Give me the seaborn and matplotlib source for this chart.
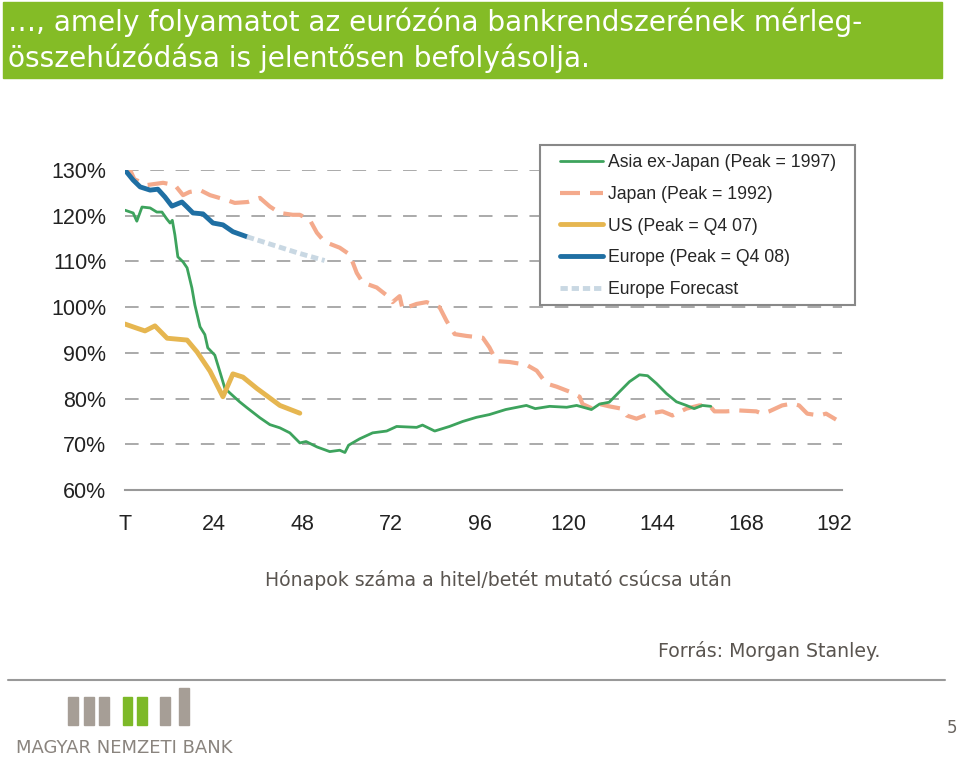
import pandas as pd
import seaborn as sns
import matplotlib.pyplot as plt
from matplotlib.patches import Rectangle
from matplotlib.lines import Line2D

# data: months after peak, loan/deposit ratio (%)
asia_months = [0, 2.2, 3.2, 4.6, 6.8, 8.6, 10, 11.3, 12.2, 12.8, 13.5, 14.3, 15.7, 16.8,
               18.1, 18.9, 20.3, 21.6, 22.4, 24.3, 25.7, 27, 28.4, 31, 33, 36.5, 39.2,
               41.9, 44.6, 47.3, 49, 52, 55.4, 58.1, 59.5, 60.5, 63.5, 67, 70.8, 73.5,
               78.9, 80.5, 83.8, 87.8, 91.4, 95.1, 98.6, 103, 108.6, 111, 114.9, 119.5,
               122.2, 126.2, 128.4, 131, 133.8, 136.5, 139.2, 141.4, 143.8, 146.5,
               149.2, 151.9, 154, 156.2, 158.5]
asia_values = [121.2, 120.6, 118.8, 121.9, 121.7, 120.8, 120.8, 119.3, 118.4, 119, 115.8,
               111, 109.9, 108.6, 104.2, 100.5, 95.7, 94, 91.1, 89.5, 85.8, 82.3, 81.2,
               79.3, 78, 75.8, 74.3, 73.6, 72.5, 70.3, 70.6, 69.4, 68.4, 68.7, 68.2, 69.8,
               71.2, 72.5, 72.9, 73.9, 73.7, 74.2, 72.9, 73.9, 75, 75.9, 76.5, 77.6, 78.5,
               77.8, 78.3, 78.1, 78.5, 77.6, 78.8, 79.2, 81.5, 83.7, 85.2, 85, 83.3, 81.1,
               79.3, 78.5, 77.8, 78.5, 78.3]

japan_months = [0, 1.4, 2.5, 5.9, 10.3, 13.5, 15.7, 17.5, 20.3, 23, 27.6, 29.7, 33.2, 36.5,
                39.2, 41.9, 45.4, 47.3, 50, 51.9, 54, 58.1, 60.8, 62.7, 64.3, 68.1, 71.1,
                72.4, 74.3, 75.1, 78.9, 81.6, 85.1, 87, 89.2, 92.4, 96.8, 98.6, 100.5, 104,
                108.6, 111.4, 114, 116.8, 120.3, 123, 123.8, 126.5, 128.4, 131, 134.3,
                135.7, 138.4, 141.9, 145.4, 148.1, 151.9, 155.4, 158.1, 159.5, 162.7,
                166.2, 170.8, 172.4, 174.3, 177.8, 180.5, 182.4, 184.6, 187.8, 189.7, 192.4]
japan_values = [130.2, 130, 128, 126.7, 127.2, 126.7, 124.5, 125.2, 125.6, 124.5, 123.4,
                122.8, 123, 123.9, 122, 120.6, 120.2, 120.2, 119.1, 116.3, 114.3, 113,
                111.5, 107.5, 105.4, 104.3, 102.4, 101.1, 102.4, 99.6, 100.7, 101.1, 100,
                97, 94.1, 93.7, 93.3, 91.2, 88.2, 88, 87.4, 86.1, 83.3, 82.6, 81.5, 80.4,
                78.8, 77.8, 78.8, 78.3, 77.8, 76.3, 75.6, 76.7, 77.2, 76.3, 77.8, 78.5,
                78.5, 77.2, 77.2, 77.4, 77.2, 76.7, 77.2, 78.5, 78.9, 78.5, 76.7, 76.3,
                76.7, 75.4]

us_months = [0, 3.2, 5.4, 8.1, 11.4, 16.8, 19.5, 23, 26.5, 29.2, 31.9, 35.7, 38.4, 41.9, 47.3]
us_values = [96.3, 95.4, 94.8, 95.9, 93.2, 92.8, 90.2, 86, 80.4, 85.4, 84.7, 82.2, 80.6,
             78.5, 76.8]

europe_months = [0, 2.2, 4.1, 6.8, 8.9, 10.8, 12.7, 15.4, 16.8, 18.4, 21.1, 23.8, 26.5,
                 29.2, 33]
europe_values = [130, 127.8, 126.3, 125.6, 125.8, 124.1, 122.1, 123, 121.9, 120.6, 120.4,
                 118.4, 118, 116.5, 115.4]

forecast_months = [33, 40, 47, 54]
forecast_values = [115.4, 113.6, 111.8, 110.2]

x_ticks = [0, 24, 48, 72, 96, 120, 144, 168, 192]
x_tick_labels = ['T', '24', '48', '72', '96', '120', '144', '168', '192']
y_ticks = [60, 70, 80, 90, 100, 110, 120, 130]
y_tick_labels = ['60%', '70%', '80%', '90%', '100%', '110%', '120%', '130%']

sns.set_style('white')
plt.rcParams['font.family'] = ['Liberation Sans', 'DejaVu Sans']

fig = plt.figure(figsize=(9.6, 7.61), dpi=100)
ax = fig.add_axes([125 / 960, 1 - 490 / 761, 717 / 960, 320 / 761])

sns.lineplot(x=japan_months, y=japan_values, ax=ax, color='#F4AA8C', lw=3,
             linestyle=(0, (4.8, 2.4)), label='Japan (Peak = 1992)')
sns.lineplot(x=asia_months, y=asia_values, ax=ax, color='#3DA35D', lw=2,
             label='Asia ex-Japan (Peak = 1997)')
sns.lineplot(x=us_months, y=us_values, ax=ax, color='#E6B650', lw=3.5,
             label='US (Peak = Q4 07)')
sns.lineplot(x=europe_months, y=europe_values, ax=ax, color='#1F6FA3', lw=3.5,
             label='Europe (Peak = Q4 08)')
sns.lineplot(x=forecast_months, y=forecast_values, ax=ax, color='#C9D8E3', lw=3.5,
             linestyle=(0, (1.5, 0.8)), label='Europe Forecast')

ax.set_xlim(0, 194)
ax.set_ylim(60, 130)
ax.set_xticks(x_ticks)
ax.set_xticklabels(x_tick_labels)
ax.set_yticks(y_ticks)
ax.set_yticklabels(y_tick_labels)
ax.set_xlabel('')
ax.set_ylabel('')
ax.tick_params(axis='x', colors='#999999', length=7, width=1.5, direction='out',
               labelcolor='#222222', labelsize=15.5, pad=10)
ax.tick_params(axis='y', length=0, labelcolor='#222222', labelsize=15.5, pad=13.5)
ax.grid(axis='y', color='#AAAAAA', lw=1.4, linestyle=(0, (7, 6)))
ax.set_axisbelow(True)
for side in ['top', 'right', 'left']:
    ax.spines[side].set_visible(False)
ax.spines['bottom'].set_color('#999999')
ax.spines['bottom'].set_linewidth(1.5)

# legend: white box drawn over the grid, entries reordered like the original
ax.add_patch(Rectangle((540 / 960, 1 - 305 / 761), 315 / 960, 160 / 761,
                       transform=fig.transFigure, facecolor='white', edgecolor='#888888',
                       lw=1.5, zorder=4, clip_on=False))
handles, labels = ax.get_legend_handles_labels()
order = [1, 0, 2, 3, 4]
leg = ax.legend([handles[i] for i in order], [labels[i] for i in order],
                loc='upper left', bbox_to_anchor=(560 / 960, 1 - 154 / 761),
                bbox_transform=fig.transFigure, frameon=False,
                fontsize=12.7, handlelength=2.45, handletextpad=0.25,
                labelspacing=0.84, borderpad=0, borderaxespad=0)
leg.set_zorder(5)

# slide header
fig.patches.append(Rectangle((3 / 960, 1 - 78 / 761), 939 / 960, 76 / 761,
                             transform=fig.transFigure, color='#84BC26', zorder=0))
fig.text(8 / 960, 1 - 22 / 761, '…, amely folyamatot az eurózóna bankrendszerének mérleg-',
         color='white', fontsize=20.2, family='DejaVu Sans', va='center')
fig.text(8 / 960, 1 - 58 / 761, 'összehúzódása is jelentősen befolyásolja.',
         color='white', fontsize=20.2, family='DejaVu Sans', va='center')

# axis caption and source
fig.text(498 / 960, 1 - 580 / 761, 'Hónapok száma a hitel/betét mutató csúcsa után',
         color='#5A5550', fontsize=13.6, family='DejaVu Sans', ha='center', va='center')
fig.text(880 / 960, 1 - 651 / 761, 'Forrás: Morgan Stanley.',
         color='#5A5550', fontsize=13.6, family='DejaVu Sans', ha='right', va='center')

# footer line, logo and page number
fig.lines.append(Line2D([8 / 960, 945 / 960], [1 - 680 / 761, 1 - 680 / 761],
                        transform=fig.transFigure, color='#999999', lw=1.5))
logo_bars = [(68, 697, '#A69E96'), (84, 697, '#A69E96'), (99, 697, '#A69E96'),
             (123, 697, '#7DB928'), (137, 697, '#7DB928'), (160, 697, '#A69E96'),
             (179, 688, '#A69E96')]
for bx, top, col in logo_bars:
    fig.patches.append(Rectangle((bx / 960, 1 - 725 / 761), 9.5 / 960, (725 - top) / 761,
                                 transform=fig.transFigure, color=col))
fig.text(124 / 960, 1 - 748 / 761, 'MAGYAR NEMZETI BANK', color='#8A847E', fontsize=13,
         family='DejaVu Sans', ha='center', va='center')
fig.text(952 / 960, 1 - 728 / 761, '5', color='#6A6560', fontsize=12,
         family='DejaVu Sans', ha='center', va='center')

fig.savefig('out.png', dpi=100)
